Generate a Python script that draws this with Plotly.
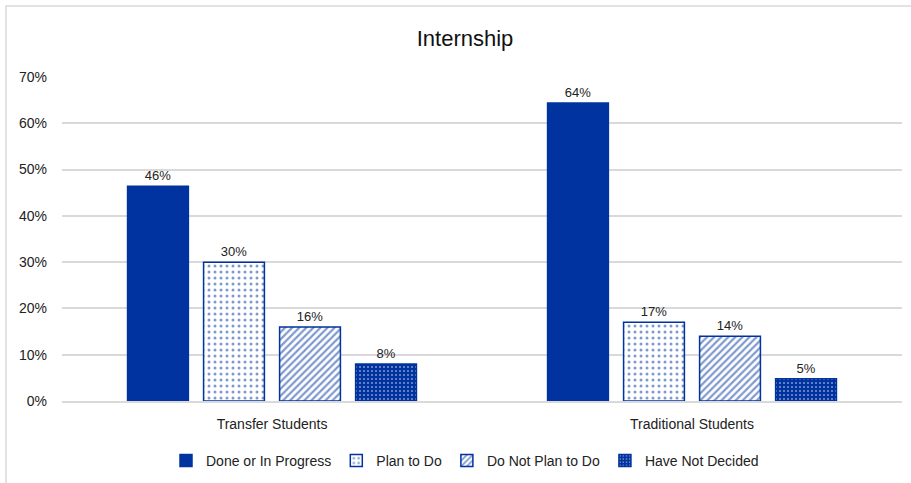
import plotly.graph_objects as go

categories = ["Transfer Students", "Traditional Students"]
series_names = ["Done or In Progress", "Plan to Do", "Do Not Plan to Do", "Have Not Decided"]
done = [0.464, 0.644]
plan = [0.30, 0.17]
not_plan = [0.16, 0.14]
undecided = [0.08, 0.048]
y_ticks = [0, 0.1, 0.2, 0.3, 0.4, 0.5, 0.6, 0.7]

BLUE = "#0033A0"
FONT = "Liberation Sans, Arial, sans-serif"

styles = [
    dict(color=BLUE, line=dict(color=BLUE, width=1.5)),
    dict(color="white", line=dict(color=BLUE, width=1.5),
         pattern=dict(shape=".", fgcolor=BLUE, bgcolor="white", size=6, solidity=0.2)),
    dict(color="white", line=dict(color=BLUE, width=1.5),
         pattern=dict(shape="/", fgcolor=BLUE, bgcolor="white", size=5, solidity=0.45)),
    dict(color=BLUE, line=dict(color=BLUE, width=1.5),
         pattern=dict(shape=".", fgcolor="white", bgcolor=BLUE, size=4, solidity=0.2)),
]

fig = go.Figure()
for name, vals, st in zip(series_names, [done, plan, not_plan, undecided], styles):
    fig.add_trace(go.Bar(
        name=name, x=categories, y=vals, marker=st,
        texttemplate="%{y:.0%}", textposition="outside",
        textfont=dict(size=13, color="#222222", family=FONT),
        cliponaxis=False,
    ))

L, R, T, B = 62, 9, 77, 82
W, H = 911, 483
pw, ph = W - L - R, H - T - B

fig.update_layout(
    width=W, height=H,
    margin=dict(l=L, r=R, t=T, b=B, autoexpand=False),
    paper_bgcolor="white", plot_bgcolor="white",
    font=dict(family=FONT, size=14, color="#222222"),
    title=dict(text="Internship", x=465 / W, xref="container", xanchor="center",
               y=1 - 38 / H, yref="container", yanchor="middle",
               font=dict(size=22, color="#111111", family=FONT)),
    barmode="group", bargap=0.276, bargroupgap=0.2,
    showlegend=True,
    legend=dict(orientation="h", xref="container", x=465 / W, xanchor="center",
                yref="container", y=1 - 461 / H, yanchor="middle",
                font=dict(size=14, family=FONT),
                itemwidth=30, tracegroupgap=0, traceorder="normal"),
    xaxis=dict(showgrid=False, showline=True, linecolor="#d9d9d9", linewidth=1.5,
               ticks="", tickfont=dict(size=14), ticklabelstandoff=9),
    yaxis=dict(range=[0, 0.7], tickvals=y_ticks, tickformat=".0%",
               showgrid=True, gridcolor="#d9d9d9", gridwidth=1.5,
               zeroline=False, showline=False, ticks="", tickfont=dict(size=14),
               ticklabelstandoff=14),
)

# chart-area border (top and left visible edges)
fig.add_shape(type="rect", xref="paper", yref="paper",
              x0=(6 - L) / pw, x1=(W + 5 - L) / pw,
              y0=-(H + 5 - T - ph) / ph, y1=1 + (T - 6) / ph,
              line=dict(color="#d9d9d9", width=1.5), fillcolor="rgba(0,0,0,0)", layer="below")

fig.write_html("out.html")
